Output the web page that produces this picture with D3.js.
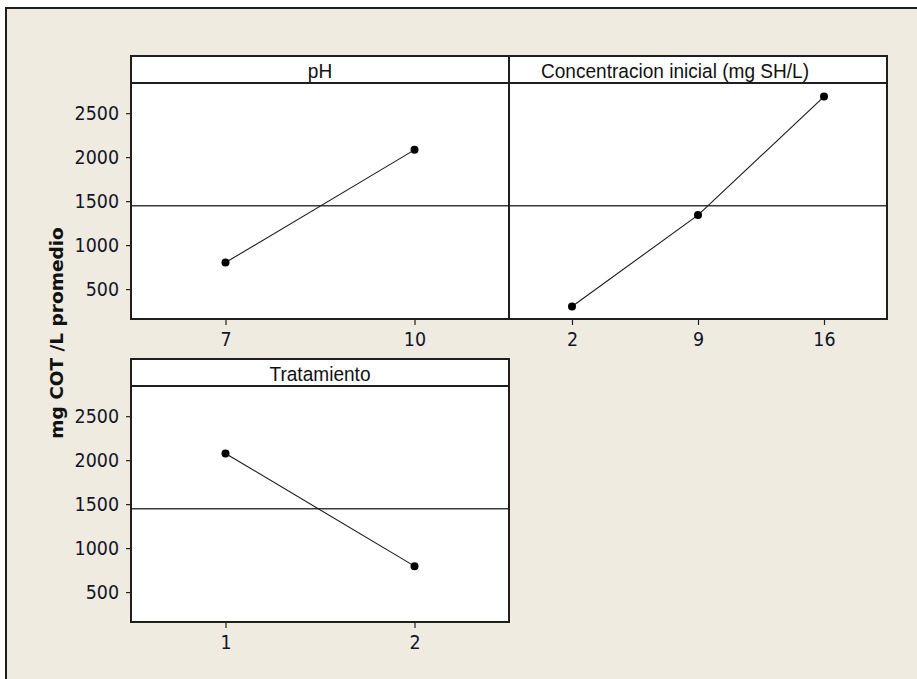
<!DOCTYPE html>
<html>
<head>
<meta charset="utf-8">
<script src="https://cdn.jsdelivr.net/npm/d3@7"></script>
<style>
  html, body { margin: 0; padding: 0; background: #ffffff; }
  svg { display: block; }
</style>
</head>
<body>
<div id="chart"></div>
<script>
// ---- Data ----
const panelTitles = ["pH", "Concentracion inicial (mg SH/L)", "Tratamiento"];
const phLevels = ["7", "10"];
const phMeans = [802, 2083];
const concLevels = ["2", "9", "16"];
const concMeans = [302, 1341, 2689];
const tratLevels = ["1", "2"];
const tratMeans = [2076, 795];
const yTickValues = [500, 1000, 1500, 2000, 2500];
const yDomain = [160, 2843];
const grandMean = 1447;
const yTitle = "mg COT /L promedio";

// ---- Layout ----
const W = 917, H = 679;
const headerH = 27, plotH = 236;
const panels = [
  { title: panelTitles[0], levels: phLevels, means: phMeans, x0: 131, x1: 509, top: 56, showY: true, titleDx: 0 },
  { title: panelTitles[1], levels: concLevels, means: concMeans, x0: 509, x1: 887, top: 56, showY: false, titleDx: -23 },
  { title: panelTitles[2], levels: tratLevels, means: tratMeans, x0: 131, x1: 509, top: 359, showY: true, titleDx: 0 }
];

const svg = d3.select("#chart").append("svg")
  .attr("width", W).attr("height", H);

svg.append("rect")
  .attr("x", 6).attr("y", 8)
  .attr("width", W + 20).attr("height", H + 20)
  .attr("fill", "#efebe0")
  .attr("stroke", "#1e1e1e").attr("stroke-width", 2);

const tickFont = "'DejaVu Sans', Verdana, sans-serif";
const headFont = "'Liberation Sans', Arial, sans-serif";

// condense text horizontally (the reference fonts are narrower)
function condense(sel, f) {
  sel.each(function () {
    const len = this.getComputedTextLength();
    if (len > 0) {
      d3.select(this).attr("textLength", len * f).attr("lengthAdjust", "spacingAndGlyphs");
    }
  });
}

panels.forEach(p => {
  const g = svg.append("g");
  const plotTop = p.top + headerH;
  const plotBottom = plotTop + plotH;

  const x = d3.scalePoint().domain(p.levels).range([p.x0, p.x1]).padding(0.5);
  const y = d3.scaleLinear().domain(yDomain).range([plotBottom, plotTop]);

  g.append("rect").attr("x", p.x0).attr("y", p.top)
    .attr("width", p.x1 - p.x0).attr("height", headerH + plotH)
    .attr("fill", "#ffffff");

  // mean reference line
  g.append("line")
    .attr("x1", p.x0).attr("x2", p.x1)
    .attr("y1", y(grandMean)).attr("y2", y(grandMean))
    .attr("stroke", "#3a3a3a").attr("stroke-width", 1.6);

  // data line
  const pts = p.levels.map((l, i) => [x(l), y(p.means[i])]);
  g.append("path")
    .attr("d", d3.line()(pts))
    .attr("fill", "none")
    .attr("stroke", "#1a1a1a").attr("stroke-width", 1.1);

  g.selectAll("circle.pt").data(p.levels).enter().append("circle")
    .attr("class", "pt")
    .attr("cx", d => x(d))
    .attr("cy", (d, i) => y(p.means[i]))
    .attr("r", 4)
    .attr("fill", "#000");

  // borders
  g.append("rect").attr("x", p.x0).attr("y", p.top)
    .attr("width", p.x1 - p.x0).attr("height", headerH + plotH)
    .attr("fill", "none").attr("stroke", "#1e1e1e").attr("stroke-width", 2);
  g.append("line")
    .attr("x1", p.x0).attr("x2", p.x1)
    .attr("y1", plotTop).attr("y2", plotTop)
    .attr("stroke", "#1e1e1e").attr("stroke-width", 2);

  // header title
  const ht = g.append("text")
    .attr("x", (p.x0 + p.x1) / 2 + p.titleDx)
    .attr("y", p.top + 21.5)
    .attr("text-anchor", "middle")
    .attr("font-family", headFont)
    .attr("font-size", 20.5)
    .attr("fill", "#111")
    .text(p.title);
  condense(ht, 0.93);

  // x axis
  const xa = g.append("g")
    .attr("transform", `translate(0,${plotBottom})`)
    .call(d3.axisBottom(x).tickSize(6).tickPadding(8));
  xa.select(".domain").remove();
  xa.selectAll("line").attr("stroke", "#222").attr("stroke-width", 1.2);
  xa.selectAll("text")
    .attr("font-family", tickFont).attr("font-size", 19)
    .attr("fill", "#141428");
  condense(xa.selectAll("text"), 0.92);

  // y axis
  if (p.showY) {
    const ya = g.append("g")
      .attr("transform", `translate(${p.x0},0)`)
      .call(d3.axisLeft(y).tickValues(yTickValues).tickSize(5).tickPadding(7).tickFormat(d3.format("d")));
    ya.select(".domain").remove();
    ya.selectAll("line").attr("stroke", "#222").attr("stroke-width", 1.2);
    ya.selectAll("text")
      .attr("font-family", tickFont).attr("font-size", 19)
      .attr("fill", "#141428");
    condense(ya.selectAll("text"), 0.92);
  }
});

// y title
svg.append("text")
  .attr("transform", "translate(63,333) rotate(-90)")
  .attr("text-anchor", "middle")
  .attr("font-family", "'DejaVu Sans', Verdana, sans-serif")
  .attr("font-weight", "bold")
  .attr("font-size", 18.5)
  .attr("fill", "#111")
  .text(yTitle);
</script>
</body>
</html>
